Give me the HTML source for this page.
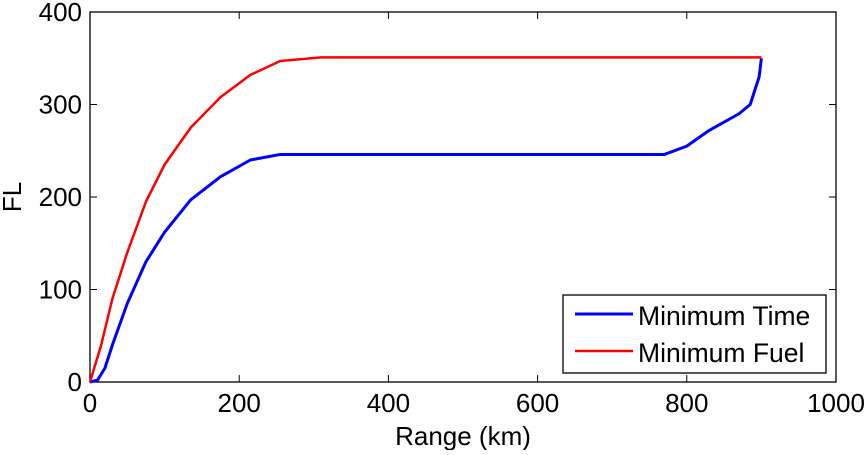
<!DOCTYPE html>
<html><head><meta charset="utf-8"><style>
body{margin:0;background:#fff;}
svg text{font-family:"Liberation Sans",sans-serif;fill:#000;}
</style></head><body>
<svg id="chart" width="866" height="450"></svg>
<script>
const xTicks=[0,200,400,600,800,1000];
const yTicks=[0,100,200,300,400];
const timeRange=[0,10,20,30,50,75,100,135,175,215,255,400,600,770,800,830,870,885,897,900];
const timeFL=[0,2,15,40,85,130,162,197,222,240,246,246,246,246,255,272,290,300,330,350];
const fuelRange=[0,15,30,50,75,100,135,175,215,255,310,400,500,600,900];
const fuelFL=[0,40,90,140,195,235,275,308,332,347,351,351,351,351,351];
const L=90,R=836,T=12,B=382;
const sx=v=>L+(v-0)/1000*(R-L);
const sy=v=>B-(v-0)/400*(B-T);
const svg=document.getElementById('chart');
const NS='http://www.w3.org/2000/svg';
function mk(t,a,p){const e=document.createElementNS(NS,t);for(const k in a)e.setAttribute(k,a[k]);(p||svg).appendChild(e);return e;}
const frame=mk('rect',{x:L,y:T,width:R-L,height:B-T,fill:'#fff',stroke:'#000','stroke-width':1.3});


xTicks.forEach(v=>{
  const x=sx(v);
  const t=mk('line',{x1:x,x2:x,y1:B,y2:B-7,stroke:'#000'});
  
  
  mk('line',{x1:x,x2:x,y1:T,y2:T+7,stroke:'#000'});
  const l=mk('text',{x:x,y:412,'font-size':26,'text-anchor':'middle'});l.textContent=v;
  
  
});
yTicks.forEach(v=>{
  const y=sy(v);
  const t=mk('line',{x1:L,x2:L+7,y1:y,y2:y,stroke:'#000'});
  
  
  mk('line',{x1:R,x2:R-7,y1:y,y2:y,stroke:'#000'});
  const l=mk('text',{x:L-8,y:y+9,'font-size':26,'text-anchor':'end'});l.textContent=v;
  
  
});
const xt=mk('text',{x:(L+R)/2,y:445,'font-size':26,'text-anchor':'middle'});xt.textContent='Range (km)';


const yt=mk('text',{x:0,y:0,'font-size':26,'text-anchor':'middle',transform:`translate(21,${(T+B)/2}) rotate(-90)`});yt.textContent='FL';


function pts(xs,ys){return xs.map((x,i)=>sx(x)+','+sy(ys[i])).join(' ');}
const lt=mk('polyline',{points:pts(timeRange,timeFL),fill:'none',stroke:'#0000ff','stroke-width':3,'stroke-linejoin':'round'});


const lf=mk('polyline',{points:pts(fuelRange,fuelFL),fill:'none',stroke:'#ff0000','stroke-width':2.5,'stroke-linejoin':'round'});


const lg=mk('g',{});


mk('rect',{x:563,y:295,width:263,height:78,fill:'#fff',stroke:'#000','stroke-width':1.3},lg);
const e1=mk('g',{},lg);


mk('line',{x1:575,x2:633,y1:314,y2:314,stroke:'#0000ff','stroke-width':3},e1);
const t1=mk('text',{x:638,y:325,'font-size':26.5},e1);t1.textContent='Minimum Time';
const e2=mk('g',{},lg);


mk('line',{x1:575,x2:633,y1:351,y2:351,stroke:'#ff0000','stroke-width':2.5},e2);
const t2=mk('text',{x:638,y:362,'font-size':26.5},e2);t2.textContent='Minimum Fuel';
</script>
</body></html>
